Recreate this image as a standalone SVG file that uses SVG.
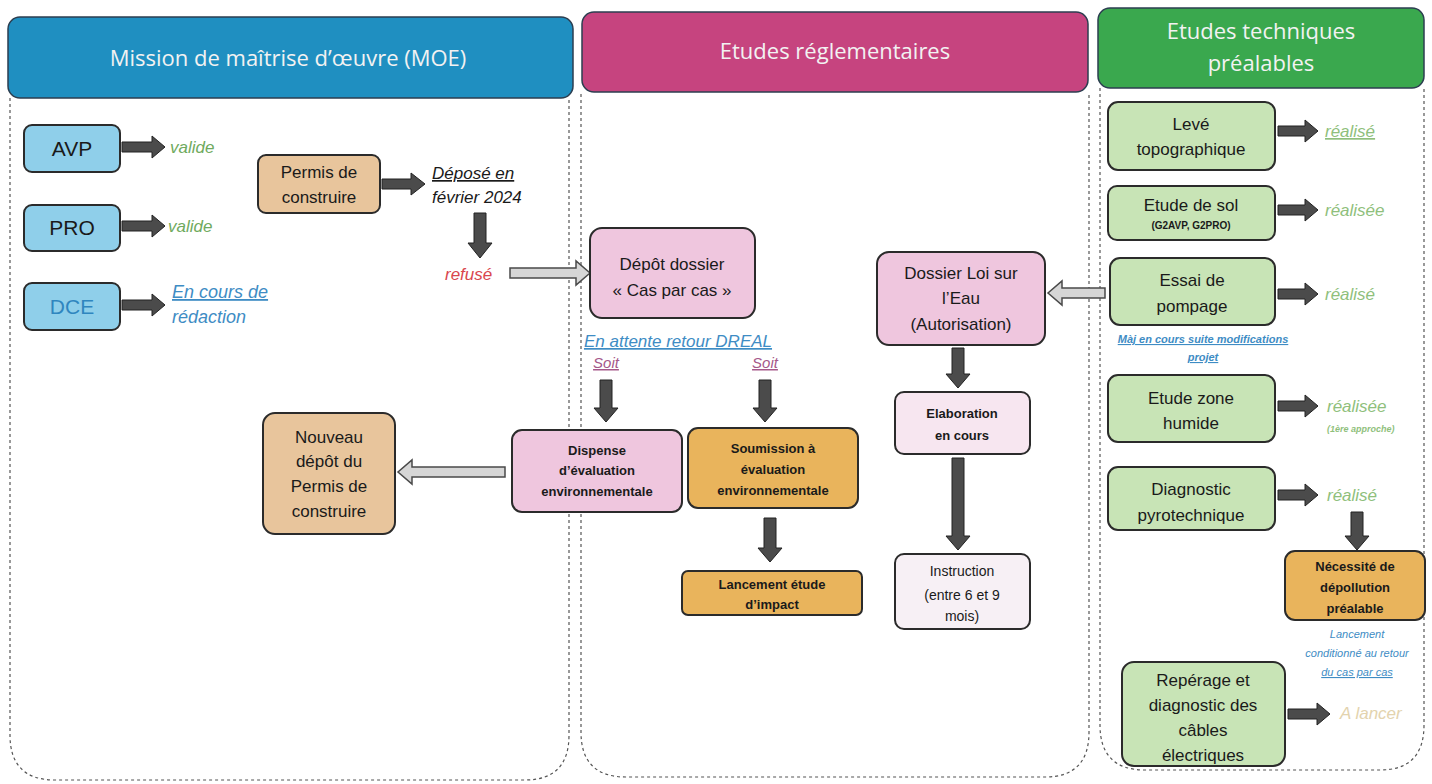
<svg xmlns="http://www.w3.org/2000/svg" width="1432" height="784" viewBox="0 0 1432 784">
<style>
.hdr{stroke:#2c3e50;stroke-width:1.5}
.hdrt{font-family:"Open Sans","Noto Sans",sans-serif;fill:#f2f2f2;font-size:22px;text-anchor:middle}
.cont{fill:none;stroke:#555;stroke-width:1.2;stroke-dasharray:3 3}
.nd{stroke:#2b2b2b;stroke-width:2}
.blue{fill:#8fcfea}
.tan{fill:#e8c59c}
.pink{fill:#efc6de}
.lpink{fill:#f7e6f0}
.wpink{fill:#f7f0f5}
.org{fill:#e9b45c}
.grn{fill:#c8e4b6}
.t{font-family:"Liberation Sans",Arial,sans-serif;fill:#1a1a1a;text-anchor:middle}
.tb{font-weight:bold}
.it{font-family:"Liberation Sans",Arial,sans-serif;font-style:italic}
.ok{fill:#6faa5e}
.okl{fill:#8fbf7c}
.bl{fill:#3e8cc4}
.arr{fill:#4b4b4b;stroke:#222;stroke-width:1}
.harr{fill:#d6d6d6;stroke:#4a4a4a;stroke-width:1.5}
</style>

<!-- containers -->
<g id="containers">
<path class="cont" d="M10 98 V735 Q10 780 55 780 H525 Q569 780 569 735 V98"/>
<path class="cont" d="M581 94 V732 Q581 777 626 777 H1045 Q1089 777 1089 732 V94"/>
<path class="cont" d="M1100 88 V725 Q1100 770 1145 770 H1380 Q1424 770 1424 725 V88"/>
</g>

<!-- headers -->
<g id="hdr-moe">
<rect class="hdr" x="8" y="17" width="565" height="81" rx="12" fill="#1f8fc1"/>
<text class="hdrt" x="288" y="66">Mission de maîtrise d’œuvre (MOE)</text>
</g>
<g id="hdr-reg">
<rect class="hdr" x="582" y="12" width="506" height="80" rx="12" fill="#c6447f"/>
<text class="hdrt" x="835" y="59">Etudes réglementaires</text>
</g>
<g id="hdr-tech">
<rect class="hdr" x="1098" y="8" width="326" height="80" rx="12" fill="#3aa84e"/>
<text class="hdrt" x="1261" y="39">Etudes techniques</text>
<text class="hdrt" x="1261" y="71">préalables</text>
</g>

<!-- connectors -->
<g id="connectors">
<path class="arr" d="M122 142 H152 V136 L165 147 L152 158 V152 H122Z"/>
<path class="arr" d="M122 221 H152 V215 L165 226 L152 237 V231 H122Z"/>
<path class="arr" d="M122 300 H152 V294 L165 305 L152 316 V310 H122Z"/>
<path class="arr" d="M382 179 H411 V173 L425 184 L411 195 V189 H382Z"/>
<path class="arr" d="M474 213 V243 H468 L480 258 L492 243 H486 V213Z"/>
<path class="harr" d="M510 268 H576 V261 L590 273 L576 285 V278 H510Z"/>
<path class="arr" d="M600 380 V408 H594 L606 422 L618 408 H612 V380Z"/>
<path class="arr" d="M759 380 V408 H753 L765 422 L777 408 H771 V380Z"/>
<path class="arr" d="M764 518 V548 H758 L770 562 L782 548 H776 V518Z"/>
<path class="harr" d="M505 467 H412 V460 L398 472 L412 484 V477 H505Z"/>
<path class="harr" d="M1105 288 H1062 V281 L1048 293 L1062 305 V298 H1105Z"/>
<path class="arr" d="M952 348 V374 H946 L958 388 L970 374 H964 V348Z"/>
<path class="arr" d="M952 458 V536 H946 L958 550 L970 536 H964 V458Z"/>
<path class="arr" d="M1278 126 H1305 V120 L1318 131 L1305 142 V136 H1278Z"/>
<path class="arr" d="M1278 205 H1305 V199 L1318 210 L1305 221 V215 H1278Z"/>
<path class="arr" d="M1278 289 H1305 V283 L1318 294 L1305 305 V299 H1278Z"/>
<path class="arr" d="M1278 401 H1305 V395 L1318 406 L1305 417 V411 H1278Z"/>
<path class="arr" d="M1278 490 H1305 V484 L1318 495 L1305 506 V500 H1278Z"/>
<path class="arr" d="M1351 512 V536 H1345 L1357 550 L1369 536 H1363 V512Z"/>
<path class="arr" d="M1288 709 H1317 V703 L1330 714 L1317 725 V719 H1288Z"/>
</g>

<!-- MOE nodes -->
<g id="n-avp"><rect class="nd blue" x="24" y="125" width="96" height="47" rx="8"/><text class="t" x="72" y="156" font-size="21">AVP</text></g>
<text class="it ok" x="170" y="153" font-size="17">valide</text>
<g id="n-pro"><rect class="nd blue" x="24" y="205" width="96" height="46" rx="8"/><text class="t" x="72" y="235" font-size="21">PRO</text></g>
<text class="it ok" x="168" y="232" font-size="17">valide</text>
<g id="n-dce"><rect class="nd blue" x="24" y="283" width="96" height="47" rx="8"/><text class="t" x="72" y="314" font-size="21" style="fill:#2f86bf">DCE</text></g>
<text class="it bl" x="172" y="298" font-size="18" text-decoration="underline">En cours de</text>
<text class="it bl" x="172" y="323" font-size="18">rédaction</text>

<g id="n-permis"><rect class="nd tan" x="258" y="155" width="122" height="58" rx="8"/>
<text class="t" x="319" y="178" font-size="17">Permis de</text><text class="t" x="319" y="203" font-size="17">construire</text></g>
<text class="it" x="432" y="179" font-size="17" fill="#1a1a1a" text-decoration="underline">Déposé en</text>
<text class="it" x="432" y="203" font-size="17" fill="#1a1a1a">février 2024</text>
<text class="it" x="445" y="280" font-size="17" fill="#d9464e">refusé</text>

<g id="n-nouveau"><rect class="nd tan" x="263" y="413" width="132" height="121" rx="12"/>
<text class="t" x="329" y="443" font-size="17">Nouveau</text>
<text class="t" x="329" y="467" font-size="17">dépôt du</text>
<text class="t" x="329" y="492" font-size="17">Permis de</text>
<text class="t" x="329" y="517" font-size="17">construire</text></g>

<!-- Reg nodes -->
<g id="n-depot"><rect class="nd pink" x="590" y="228" width="165" height="90" rx="12"/>
<text class="t" x="672" y="270" font-size="17">Dépôt dossier</text>
<text class="t" x="672" y="296" font-size="17">« Cas par cas »</text></g>
<text class="it bl" x="678" y="347" font-size="17" text-anchor="middle" text-decoration="underline">En attente retour DREAL</text>
<text class="it" x="606" y="368" font-size="15" fill="#a5588a" text-anchor="middle" text-decoration="underline">Soit</text>
<text class="it" x="765" y="368" font-size="15" fill="#a5588a" text-anchor="middle" text-decoration="underline">Soit</text>

<g id="n-dispense"><rect class="nd pink" x="512" y="430" width="170" height="82" rx="10"/>
<text class="t tb" x="597" y="455" font-size="13">Dispense</text>
<text class="t tb" x="597" y="475" font-size="13">d’évaluation</text>
<text class="t tb" x="597" y="496" font-size="13">environnementale</text></g>

<g id="n-soumission"><rect class="nd org" x="688" y="428" width="170" height="80" rx="10"/>
<text class="t tb" x="773" y="453" font-size="13">Soumission à</text>
<text class="t tb" x="773" y="474" font-size="13">évaluation</text>
<text class="t tb" x="773" y="495" font-size="13">environnementale</text></g>

<g id="n-lancement"><rect class="nd org" x="682" y="571" width="180" height="44" rx="6"/>
<text class="t tb" x="772" y="589" font-size="13">Lancement étude</text>
<text class="t tb" x="772" y="609" font-size="13">d’impact</text></g>

<g id="n-loieau"><rect class="nd pink" x="877" y="252" width="168" height="93" rx="12"/>
<text class="t" x="961" y="279" font-size="17">Dossier Loi sur</text>
<text class="t" x="961" y="304" font-size="17">l’Eau</text>
<text class="t" x="961" y="330" font-size="17">(Autorisation)</text></g>

<g id="n-elab"><rect class="nd lpink" x="895" y="392" width="135" height="62" rx="9"/>
<text class="t tb" x="962" y="418" font-size="13">Elaboration</text>
<text class="t tb" x="962" y="440" font-size="13">en cours</text></g>

<g id="n-instr"><rect class="nd wpink" x="895" y="554" width="135" height="75" rx="9"/>
<text class="t" x="962" y="576" font-size="14">Instruction</text>
<text class="t" x="962" y="600" font-size="14">(entre 6 et 9</text>
<text class="t" x="962" y="621" font-size="14">mois)</text></g>

<!-- Tech nodes -->
<g id="n-leve"><rect class="nd grn" x="1108" y="102" width="167" height="68" rx="10"/>
<text class="t" x="1191" y="130" font-size="17">Levé</text>
<text class="t" x="1191" y="155" font-size="17">topographique</text></g>
<text class="it okl" x="1325" y="137" font-size="17" text-decoration="underline">réalisé</text>

<g id="n-sol"><rect class="nd grn" x="1108" y="186" width="167" height="54" rx="9"/>
<text class="t" x="1191" y="211" font-size="17">Etude de sol</text>
<text class="t tb" x="1191" y="229" font-size="10">(G2AVP, G2PRO)</text></g>
<text class="it okl" x="1325" y="216" font-size="17">réalisée</text>

<g id="n-essai"><rect class="nd grn" x="1110" y="258" width="165" height="67" rx="10"/>
<text class="t" x="1192" y="286" font-size="17">Essai de</text>
<text class="t" x="1192" y="312" font-size="17">pompage</text></g>
<text class="it okl" x="1325" y="300" font-size="17">réalisé</text>
<text class="it bl tb" x="1203" y="343" font-size="11" text-anchor="middle" text-decoration="underline">Màj en cours suite modifications</text>
<text class="it bl tb" x="1203" y="361" font-size="11" text-anchor="middle" text-decoration="underline">projet</text>

<g id="n-zone"><rect class="nd grn" x="1108" y="375" width="167" height="67" rx="10"/>
<text class="t" x="1191" y="404" font-size="17">Etude zone</text>
<text class="t" x="1191" y="429" font-size="17">humide</text></g>
<text class="it okl" x="1327" y="412" font-size="17">réalisée</text>
<text class="it okl tb" x="1327" y="432" font-size="9">(1ère approche)</text>

<g id="n-pyro"><rect class="nd grn" x="1108" y="467" width="167" height="63" rx="10"/>
<text class="t" x="1191" y="495" font-size="17">Diagnostic</text>
<text class="t" x="1191" y="521" font-size="17">pyrotechnique</text></g>
<text class="it okl" x="1327" y="501" font-size="17">réalisé</text>

<g id="n-depol"><rect class="nd org" x="1285" y="551" width="140" height="69" rx="10"/>
<text class="t tb" x="1355" y="571" font-size="13">Nécessité de</text>
<text class="t tb" x="1355" y="592" font-size="13">dépollution</text>
<text class="t tb" x="1355" y="613" font-size="13">préalable</text></g>
<text class="it bl" x="1357" y="638" font-size="11" text-anchor="middle">Lancement</text>
<text class="it bl" x="1357" y="657" font-size="11" text-anchor="middle">conditionné au retour</text>
<text class="it bl" x="1357" y="676" font-size="11" text-anchor="middle" text-decoration="underline">du cas par cas</text>

<g id="n-cables"><rect class="nd grn" x="1122" y="662" width="163" height="104" rx="12"/>
<text class="t" x="1203" y="686" font-size="17">Repérage et</text>
<text class="t" x="1203" y="711" font-size="17">diagnostic des</text>
<text class="t" x="1203" y="736" font-size="17">câbles</text>
<text class="t" x="1203" y="761" font-size="17">électriques</text></g>
<text class="it" x="1340" y="719" font-size="17" fill="#e3d3ae">A lancer</text>
</svg>
